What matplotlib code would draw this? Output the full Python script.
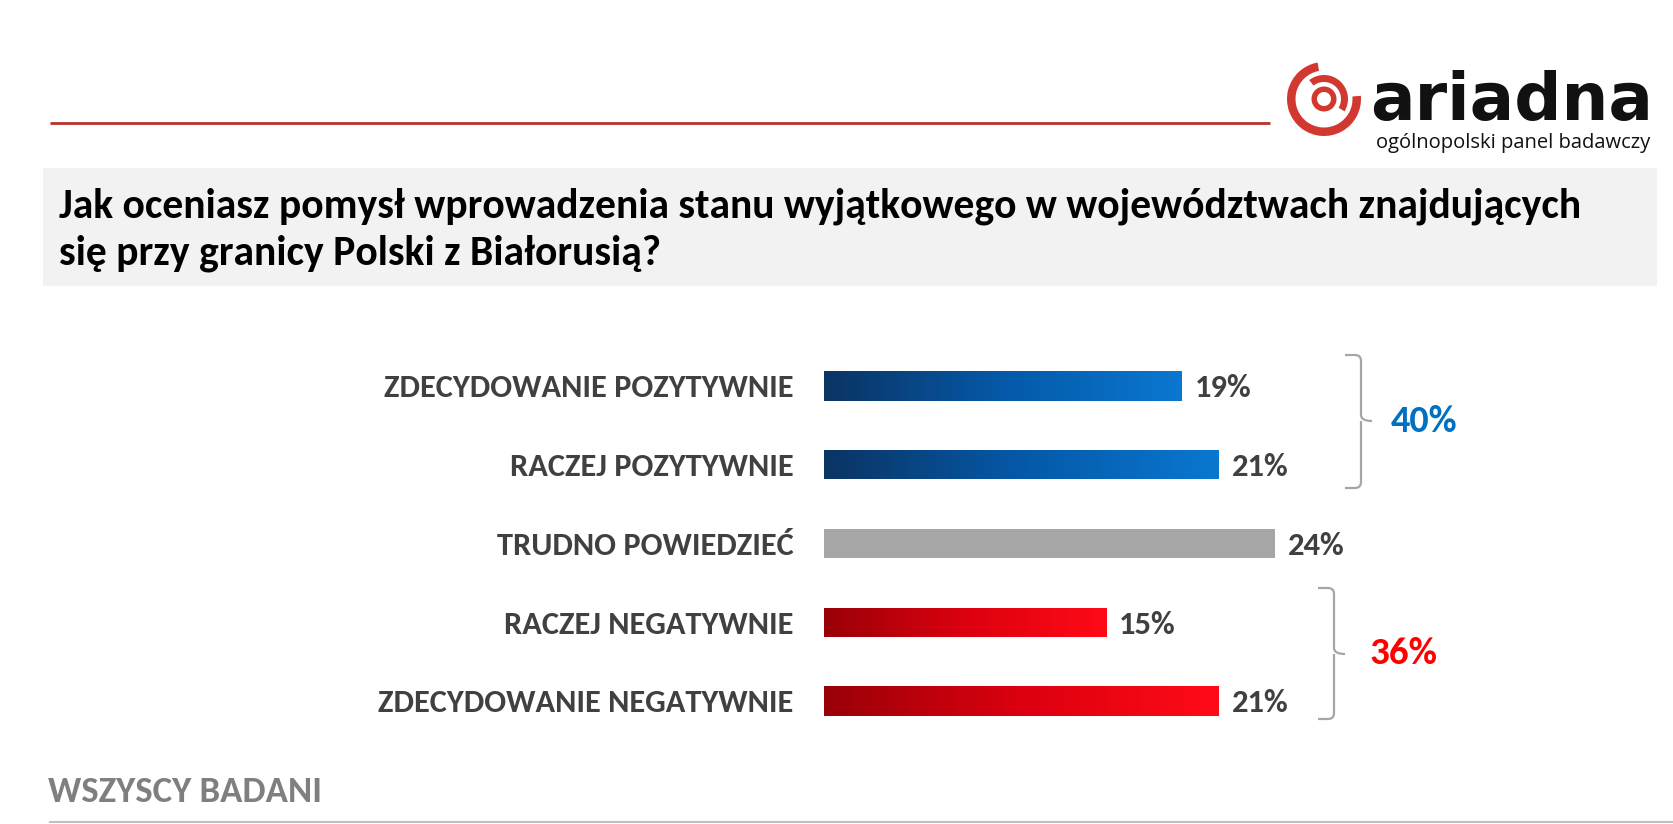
import numpy as np
import matplotlib
matplotlib.use('Agg')
import matplotlib.pyplot as plt
from matplotlib.colors import LinearSegmentedColormap
from matplotlib.patches import Rectangle, Wedge
from matplotlib.path import Path
from matplotlib.patches import PathPatch

# ---------------- data ----------------
categories = ["ZDECYDOWANIE POZYTYWNIE", "RACZEJ POZYTYWNIE", "TRUDNO POWIEDZIEĆ",
              "RACZEJ NEGATYWNIE", "ZDECYDOWANIE NEGATYWNIE"]
values = [19, 21, 24, 15, 21]
groups = ["pos", "pos", "neutral", "neg", "neg"]
title_lines = ["Jak oceniasz pomysł wprowadzenia stanu wyjątkowego w województwach znajdujących",
               "się przy granicy Polski z Białorusią?"]
subtitle = "WSZYSCY BADANI"
logo_name = "ariadna"
logo_tag = "ogólnopolski panel badawczy"

FONT = ['Carlito', 'Lato', 'DejaVu Sans']
plt.rcParams['font.family'] = FONT

W, H = 1674, 824
fig = plt.figure(figsize=(W / 100, H / 100), dpi=100)
fig.patch.set_facecolor('white')

# decoration layer in pixel coordinates
deco = fig.add_axes([0, 0, 1, 1])
deco.set_xlim(0, W)
deco.set_ylim(H, 0)
deco.axis('off')

# top red rule
deco.plot([50, 1270], [123, 123], color='#b8322c', lw=2, solid_capstyle='butt')
# title box
deco.add_patch(Rectangle((43, 168), 1614, 118, facecolor='#f2f2f2', edgecolor='none'))
deco.text(59, 217, title_lines[0], fontsize=30, fontweight='bold', color='black', va='baseline', ha='left')
deco.text(59, 265, title_lines[1], fontsize=30, fontweight='bold', color='black', va='baseline', ha='left')

# logo icon
red = '#d2382f'
cx, cy = 1324, 99
deco.add_patch(Wedge((cx, cy), 37, -5, 260, width=8.5, facecolor=red, edgecolor='none'))
deco.add_patch(Wedge((cx, cy), 24, -128, 31, width=7, facecolor=red, edgecolor='none'))
deco.add_patch(Wedge((cx, cy), 12.5, 0, 360, width=5.5, facecolor=red, edgecolor='none'))
deco.text(1653, 120, logo_name, fontsize=47.5, fontweight='bold', family=['DejaVu Sans'],
          color='#111111', ha='right', va='baseline')
deco.text(1650, 148, logo_tag, fontsize=14.5, family=['Open Sans', 'DejaVu Sans'],
          color='#111111', ha='right', va='baseline')

# bottom subtitle and rule
deco.text(48, 792, subtitle, fontsize=26.5, fontweight='bold', color='#7f7f7f', ha='left', va='center')
deco.plot([50, W], [822, 822], color='#bfbfbf', lw=1.5)

# ---------------- bars ----------------
px_per_pct = 18.8
x_left = 824
row_h = 78.75
first_c = 386
xmax = 40
ax = fig.add_axes([x_left / W, (H - (first_c + 4.5 * row_h)) / H,
                   xmax * px_per_pct / W, 5 * row_h / H])
ax.patch.set_alpha(0)
ax.set_xlim(0, xmax)
ax.set_ylim(4.5, -0.5)
for s in ax.spines.values():
    s.set_visible(False)
ax.set_xticks([])

cmaps = {
    'pos': LinearSegmentedColormap.from_list('b', ['#0b3463', '#0559a8', '#0a77d0']),
    'neg': LinearSegmentedColormap.from_list('r', ['#9a0008', '#dc000f', '#ff0b17']),
}
solid = {'neutral': '#a6a6a6'}
grad = np.linspace(0, 1, 256).reshape(1, -1)
bh = 0.37
for i, (v, g) in enumerate(zip(values, groups)):
    bar = ax.barh(i, v, height=bh, color=solid.get(g, 'none'), edgecolor='none', zorder=2)[0]
    if g in cmaps:
        im = ax.imshow(grad, extent=[0, v, i + bh / 2, i - bh / 2], cmap=cmaps[g],
                       aspect='auto', interpolation='bilinear', zorder=3)
        im.set_clip_path(bar)
    ax.text(v + 0.7, i, f"{v}%", fontsize=23.5, fontweight='bold', color='#404040',
            ha='left', va='center_baseline')
ax.set_xlim(0, xmax)
ax.set_ylim(4.5, -0.5)

ax.set_yticks(range(len(categories)))
ax.set_yticklabels(categories, fontsize=23.3, fontweight='bold', color='#404040')
ax.tick_params(axis='y', length=0, pad=22)

# group braces and totals
def brace(x0, x1, xt, ytop, ybot, ymid, r=6):
    verts = [(x0, ytop), (x1 - r, ytop), (x1, ytop), (x1, ytop + r),
             (x1, ymid - r), (x1, ymid), (xt, ymid),
             (x1, ymid), (x1, ymid + r),
             (x1, ybot - r), (x1, ybot), (x1 - r, ybot), (x0, ybot)]
    codes = [Path.MOVETO, Path.LINETO, Path.CURVE3, Path.CURVE3,
             Path.LINETO, Path.CURVE3, Path.CURVE3,
             Path.MOVETO, Path.LINETO,
             Path.LINETO, Path.CURVE3, Path.CURVE3, Path.LINETO]
    deco.add_patch(PathPatch(Path(verts, codes), facecolor='none', edgecolor='#a6a6a6', lw=1.6))

pos_total = sum(v for v, g in zip(values, groups) if g == 'pos')
neg_total = sum(v for v, g in zip(values, groups) if g == 'neg')
brace(1345, 1361, 1372, 355, 488, 421)
brace(1318, 1334, 1345, 588, 719, 654)
deco.text(1391, 421, f"{pos_total}%", fontsize=27.5, fontweight='bold', color='#0070c0', ha='left', va='center')
deco.text(1370, 654, f"{neg_total}%", fontsize=28, fontweight='bold', color='#ff0000', ha='left', va='center')

fig.savefig('out.png', dpi=100, facecolor='white')
